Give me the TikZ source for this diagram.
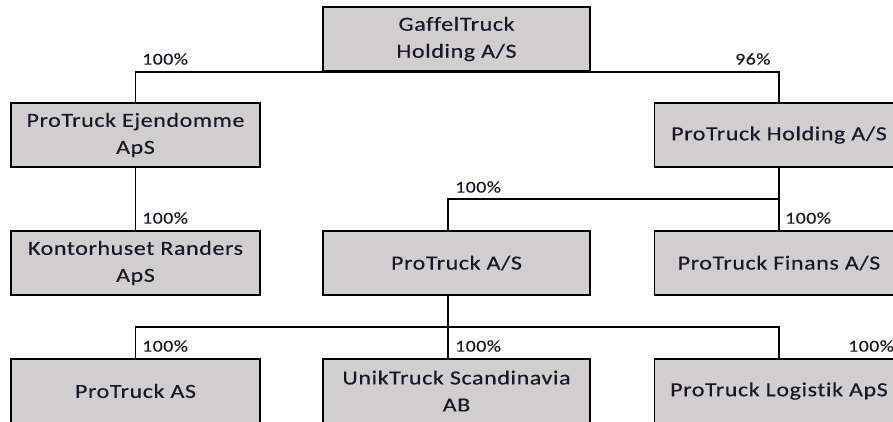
\documentclass[tikz,border=0pt]{standalone}
\usepackage{fontspec}
\setmainfont{Carlito}[FakeStretch=1.2,LetterSpace=3,Ligatures=NoCommon,FakeBold=0.3]
\usetikzlibrary{calc}
\definecolor{boxgray}{RGB}{208,206,206}
\definecolor{txt}{RGB}{25,22,40}
\begin{document}
\begin{tikzpicture}[x=1pt,y=-1pt,
  org/.style={draw=black,line width=1.5pt,fill=boxgray,minimum width=249pt,minimum height=64pt,
    align=center,inner sep=0pt,text=txt,font=\fontsize{20}{27}\selectfont},
  wideorg/.style={org,minimum width=267pt},
  pct/.style={anchor=west,inner sep=0pt,text=txt,font=\fontsize{16.5}{18}\selectfont},
  link/.style={draw=black,line width=1.5pt}]
\useasboundingbox (0,0) rectangle (893,421);
\clip (0,0) rectangle (893,421);
\fill[white] (0,0) rectangle (893,421);
% nodes
\node[wideorg] (g) at (456.5,39) {GaffelTruck\\Holding A/S};
\node[org] (e) at (135.5,135) {ProTruck Ejendomme\\ApS};
\node[org] (h) at (779,135) {ProTruck Holding A/S};
\node[org] (k) at (135.5,263) {Kontorhuset Randers\\ApS};
\node[wideorg] (p) at (456.5,263) {ProTruck A/S};
\node[org] (f) at (779,263) {ProTruck Finans A/S};
\node[org] (a) at (135.5,391) {ProTruck AS};
\node[wideorg] (u) at (456.5,391) {UnikTruck Scandinavia\\AB};
\node[org] (l) at (779,391) {ProTruck Logistik ApS};
% connectors
\draw[link] (e.north) |- (g.south) -| (h.north);
\draw[link] (e.south) -- (k.north);
\draw[link] (h.south) -- (f.north);
\coordinate (pn) at ($(p.north)+(-8.5,0)$);
\coordinate (ps) at ($(p.south)+(-8.5,0)$);
\coordinate (un) at ($(u.north)+(-8.5,0)$);
\coordinate (hm) at ($(h.south)!0.5!(f.north)$);
\draw[link] (pn) |- (hm);
\draw[link] (ps) -- (un);
\coordinate (pm) at ($(ps)!0.5!(un)$);
\draw[link] (a.north) |- (pm) -| (l.north);
% labels
\node[pct] (l1) at (142,59) {100\%};
\node[pct] (l2) at (735,59) {96\%};
\node[pct] (l3) at (142,218) {100\%};
\node[pct] (l4) at (455,187) {100\%};
\node[pct] (l5) at (785,218) {100\%};
\node[pct] (l6) at (142,346) {100\%};
\node[pct] (l7) at (455,346) {100\%};
\node[pct] (l8) at (848,346) {100\%};
\end{tikzpicture}
\end{document}
